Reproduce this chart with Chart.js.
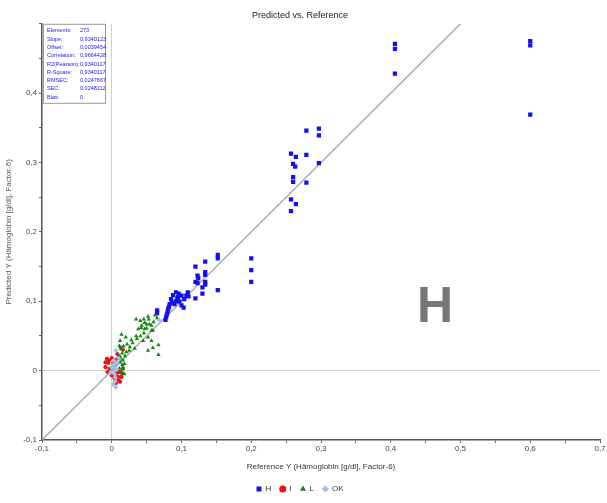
<!DOCTYPE html>
<html>
<head>
<meta charset="utf-8">
<script src="https://cdn.jsdelivr.net/npm/chart.js@4.4.1/dist/chart.umd.min.js"></script>
<style>
  html, body { margin: 0; padding: 0; background: #fff; }
  #wrap { width: 607px; height: 503px; }
</style>
</head>
<body>
<div id="wrap"><canvas id="c"></canvas></div>
<script>
// tick values
const xTicks = [-0.1, 0, 0.1, 0.2, 0.3, 0.4, 0.5, 0.6, 0.7];
const yTicks = [-0.1, 0, 0.1, 0.2, 0.3, 0.4];

// H
const hX = [0.406, 0.406, 0.406, 0.600, 0.600, 0.600,
  0.279, 0.297, 0.297, 0.257, 0.264, 0.279, 0.297, 0.260, 0.263, 0.260, 0.260, 0.279, 0.257, 0.264, 0.257,
  0.200, 0.200, 0.200, 0.152, 0.152, 0.152, 0.134, 0.134, 0.134, 0.134, 0.134, 0.120, 0.123, 0.120, 0.123, 0.130, 0.130, 0.120, 0.124,
  0.092, 0.096, 0.088, 0.100, 0.109, 0.107, 0.104, 0.085, 0.092, 0.097, 0.100, 0.103, 0.083, 0.081, 0.079, 0.078, 0.077, 0.090, 0.065, 0.065, 0.095, 0.087, 0.082, 0.080, 0.110, 0.094];
const hY = [0.471, 0.464, 0.428, 0.475, 0.469, 0.369,
  0.346, 0.349, 0.339, 0.313, 0.308, 0.311, 0.299, 0.298, 0.294, 0.279, 0.272, 0.271, 0.247, 0.240, 0.230,
  0.162, 0.145, 0.128, 0.167, 0.162, 0.116, 0.157, 0.142, 0.138, 0.128, 0.124, 0.150, 0.137, 0.128, 0.126, 0.120, 0.111, 0.104, 0.133,
  0.113, 0.111, 0.109, 0.108, 0.113, 0.108, 0.103, 0.103, 0.100, 0.100, 0.094, 0.091, 0.096, 0.089, 0.081, 0.077, 0.073, 0.096, 0.087, 0.083, 0.106, 0.098, 0.092, 0.085, 0.107, 0.104];

// I
const iX = [-0.007, 0.000, 0.006, -0.005, 0.002, -0.009, -0.003, 0.002, -0.006, 0.007, 0.011, 0.009, 0.014, 0.004, 0.010, 0.000, 0.015, 0.016, -0.009, 0.004, 0.008, 0.011, -0.004, 0.012, 0.006, 0.013, 0.016];
const iY = [0.017, 0.018, 0.016, 0.011, 0.010, 0.005, 0.003, 0.003, -0.002, -0.004, -0.002, -0.009, -0.009, -0.011, -0.014, -0.007, -0.004, 0.003, 0.012, 0.008, 0.024, 0.020, 0.015, -0.016, -0.018, 0.033, 0.030];

// L
const lX = [0.035, 0.041, 0.047, 0.053, 0.054, 0.043, 0.038, 0.050, 0.057, 0.046, 0.041, 0.036, 0.052, 0.057, 0.045, 0.067, 0.059, 0.052, 0.067, 0.033, 0.026, 0.020, 0.014, 0.012, 0.011, 0.025, 0.021, 0.019, 0.016, 0.015, 0.011, 0.014, 0.017, 0.046, 0.052, 0.050, 0.057, 0.042, 0.047, 0.059, 0.035, 0.062, 0.065, 0.060, 0.015, 0.013, 0.012, 0.018, 0.016, 0.014, 0.018, 0.010, 0.030, 0.028, 0.022];
const lY = [0.074, 0.072, 0.069, 0.074, 0.067, 0.065, 0.060, 0.061, 0.058, 0.054, 0.050, 0.046, 0.048, 0.043, 0.043, 0.037, 0.033, 0.029, 0.023, 0.032, 0.034, 0.048, 0.052, 0.043, 0.036, 0.029, 0.027, 0.021, 0.015, 0.008, 0.003, 0.031, 0.035, 0.074, 0.078, 0.067, 0.065, 0.062, 0.060, 0.058, 0.050, 0.080, 0.076, 0.070, 0.025, 0.018, 0.012, 0.010, 0.004, -0.002, -0.005, 0.022, 0.040, 0.044, 0.038];

// OK
const okX = [0.006, 0.003, 0.004, 0.005, 0.003, 0.004, 0.005, 0.004, 0.002, 0.006, 0.007, 0.001, -0.002, 0.008, 0.068, 0.010, 0.000];
const okY = [0.029, 0.015, 0.010, 0.005, 0.000, -0.005, -0.010, -0.016, -0.020, -0.024, 0.002, 0.008, -0.003, 0.012, 0.073, 0.018, 0.004];

// identity line ends
const diagX = [-0.1, 0.5];

const stats = [
  ['Elements:', '273'],
  ['Slope:', '0,9340123'],
  ['Offset:', '0,0039454'],
  ['Correlation:', '0,9664428'],
  ['R2(Pearson):', '0,9340117'],
  ['R-Square:', '0,9340117'],
  ['RMSEC:', '0,0247667'],
  ['SEC:', '0,0248112'],
  ['Bias:', '0']
];

const pts = (xs, ys) => xs.map((x, i) => ({ x: x, y: ys[i] }));
const fmt = v => {
  if (Math.abs(v) < 1e-9) return '0';
  return v.toFixed(1).replace('.', ',');
};
const isMajor = v => Math.abs(v * 10 - Math.round(v * 10)) < 1e-6;

const FONT = 'Liberation Sans Narrow, Liberation Sans, Arial, sans-serif';

const overlay = {
  id: 'overlay',
  afterDraw(chart) {
    const ctx = chart.ctx;
    const a = chart.chartArea;
    ctx.save();
    // stats box
    const bx = a.left + 1, by = a.top, bw = 62, bh = 79;
    ctx.fillStyle = '#fff';
    ctx.fillRect(bx, by, bw, bh);
    ctx.strokeStyle = '#999';
    ctx.lineWidth = 1;
    ctx.strokeRect(bx + 0.5, by + 0.5, bw, bh);
    ctx.fillStyle = '#1a1ae6';
    ctx.font = '5.5px ' + FONT;
    ctx.textBaseline = 'middle';
    stats.forEach((s, i) => {
      const yy = by + 7 + i * 8.3;
      ctx.textAlign = 'left';
      ctx.fillText(s[0], bx + 4, yy);
      ctx.fillText(s[1], bx + 37, yy);
    });
    // class letter
    ctx.fillStyle = '#777';
    ctx.font = 'bold 50px Liberation Sans, Arial, sans-serif';
    ctx.textAlign = 'center';
    ctx.textBaseline = 'alphabetic';
    ctx.fillText('H', 435, 322);
    ctx.restore();
  }
};

new Chart(document.getElementById('c'), {
  type: 'scatter',
  data: {
    datasets: [
      { label: 'H', data: pts(hX, hY), order: 3, pointStyle: 'rect', radius: 3, backgroundColor: '#1010f0', borderColor: '#1010f0', borderWidth: 0 },
      { label: 'I', data: pts(iX, iY), order: 4, pointStyle: 'circle', radius: 2.1, backgroundColor: '#ee1010', borderColor: '#ee1010', borderWidth: 0 },
      { label: 'L', data: pts(lX, lY), order: 2, pointStyle: 'triangle', radius: 2.5, backgroundColor: '#118811', borderColor: '#118811', borderWidth: 0 },
      { label: 'OK', data: pts(okX, okY), order: 1, pointStyle: 'rectRot', radius: 2.5, backgroundColor: '#9cc2ea', borderColor: '#9cc2ea', borderWidth: 0 },
      {
        type: 'line', label: 'diag', data: pts(diagX, diagX),
        borderColor: '#aaa', borderWidth: 1.5, pointRadius: 0, showLine: true, order: 10
      }
    ]
  },
  options: {
    responsive: true,
    maintainAspectRatio: false,
    animation: false,
    layout: { padding: { left: 0, right: 7, top: 0, bottom: 0 } },
    plugins: {
      title: {
        display: true,
        text: 'Predicted vs. Reference',
        color: '#222',
        font: { family: FONT, size: 9, weight: 'normal' },
        padding: { top: 10, bottom: 3 }
      },
      legend: {
        position: 'bottom',
        labels: {
          filter: it => it.text !== 'diag',
          sort: (a, b) => a.datasetIndex - b.datasetIndex,
          usePointStyle: true,
          boxWidth: 5,
          boxHeight: 5,
          padding: 9,
          color: '#333',
          font: { family: FONT, size: 8 }
        }
      },
      tooltip: { enabled: false }
    },
    scales: {
      x: {
        type: 'linear',
        min: -0.1,
        max: 0.7,
        afterFit: s => { s.height = 36; },
        afterBuildTicks: s => {
          const t = [];
          for (let i = 0; i <= 16; i++) t.push({ value: -0.1 + i * 0.05 });
          s.ticks = t;
        },
        ticks: {
          autoSkip: false,
          maxRotation: 0,
          padding: 1,
          color: '#444',
          font: { family: FONT, size: 8 },
          callback: v => (isMajor(v) ? fmt(v) : '')
        },
        grid: {
          color: c => (c.tick && Math.abs(c.tick.value) < 1e-9 ? '#cfcfcf' : 'rgba(0,0,0,0)'),
          tickColor: '#666',
          tickLength: 3,
          lineWidth: 1
        },
        border: { color: '#555', width: 1.5 },
        title: {
          display: true,
          text: 'Reference Y (Hämoglobin [g/dl], Factor-6)',
          color: '#333',
          font: { family: FONT, size: 8 },
          padding: { top: 2 }
        }
      },
      y: {
        type: 'linear',
        min: -0.1,
        max: 0.5,
        afterFit: s => { s.width = 42; },
        afterBuildTicks: s => {
          const t = [];
          for (let i = 0; i <= 12; i++) t.push({ value: -0.1 + i * 0.05 });
          s.ticks = t;
        },
        ticks: {
          autoSkip: false,
          padding: 2,
          color: '#444',
          font: { family: FONT, size: 8 },
          callback: v => (isMajor(v) && v < 0.45 ? fmt(v) : '')
        },
        grid: {
          color: c => (c.tick && Math.abs(c.tick.value) < 1e-9 ? '#cfcfcf' : 'rgba(0,0,0,0)'),
          tickColor: '#666',
          tickLength: 3,
          lineWidth: 1
        },
        border: { color: '#555', width: 1.5 },
        title: {
          display: true,
          text: 'Predicted Y (Hämoglobin [g/dl], Factor-6)',
          color: '#555',
          font: { family: FONT, size: 8 },
          padding: { bottom: 0 }
        }
      }
    }
  },
  plugins: [overlay]
});
</script>
</body>
</html>
